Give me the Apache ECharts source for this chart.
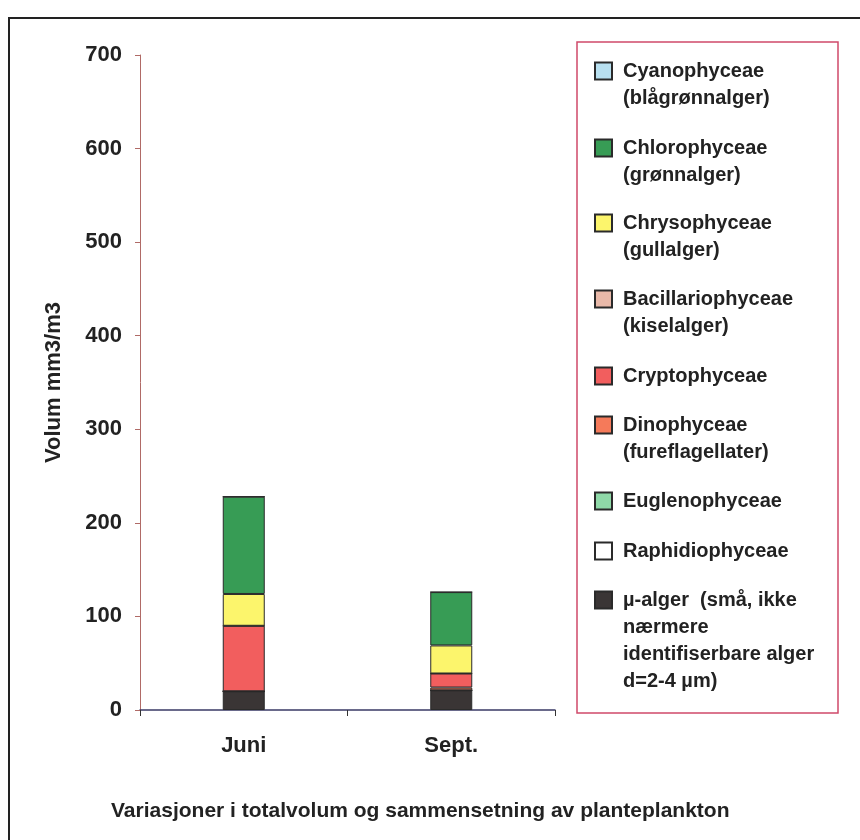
<!DOCTYPE html>
<html>
<head>
<meta charset="utf-8">
<script src="https://cdn.jsdelivr.net/npm/echarts@6/dist/echarts.min.js"></script>
<style>
html,body{margin:0;padding:0;background:#fff;}
#chart{width:860px;height:840px;}
</style>
</head>
<body>
<div id="chart"></div>
<script>
const categories = ['Juni', 'Sept.'];

// stacked values (mm3/m3), bottom of the stack first
const muAlger        = [20, 21];
const raphidio       = [0, 0];
const eugleno        = [0, 0];
const dinophyceae    = [0, 3];
const cryptophyceae  = [70, 15];
const bacillario     = [0, 0];
const chrysophyceae  = [34, 30];
const chlorophyceae  = [104, 57];
const cyanophyceae   = [0, 0];

const yMin = 0, yMax = 700, yStep = 100;

const titleText = 'Variasjoner i totalvolum og sammensetning av planteplankton';
const yAxisName = 'Volum mm3/m3';

// legend labels (first line = series name)
const legendLabels = {
  'Cyanophyceae': ['Cyanophyceae', '(blågrønnalger)'],
  'Chlorophyceae': ['Chlorophyceae', '(grønnalger)'],
  'Chrysophyceae': ['Chrysophyceae', '(gullalger)'],
  'Bacillariophyceae': ['Bacillariophyceae', '(kiselalger)'],
  'Cryptophyceae': ['Cryptophyceae'],
  'Dinophyceae': ['Dinophyceae', '(fureflagellater)'],
  'Euglenophyceae': ['Euglenophyceae'],
  'Raphidiophyceae': ['Raphidiophyceae'],
  'µ-alger': ['µ-alger  (små, ikke', 'nærmere', 'identifiserbare alger', 'd=2-4 µm)']
};
const legendOrder = ['Cyanophyceae','Chlorophyceae','Chrysophyceae','Bacillariophyceae','Cryptophyceae','Dinophyceae','Euglenophyceae','Raphidiophyceae','µ-alger'];
const legendFirstLineY = [71, 148, 223, 299, 376, 425, 501, 551, 600];

const FONT = '"Liberation Sans", Arial, sans-serif';
const TXT = '#222';

const seriesDefs = [
  {name: 'µ-alger', data: muAlger, color: '#3a3535'},
  {name: 'Raphidiophyceae', data: raphidio, color: '#ffffff'},
  {name: 'Euglenophyceae', data: eugleno, color: '#8fd9a8'},
  {name: 'Dinophyceae', data: dinophyceae, color: '#f57a5a'},
  {name: 'Cryptophyceae', data: cryptophyceae, color: '#f25e5e'},
  {name: 'Bacillariophyceae', data: bacillario, color: '#e9b9a9'},
  {name: 'Chrysophyceae', data: chrysophyceae, color: '#fcf56c'},
  {name: 'Chlorophyceae', data: chlorophyceae, color: '#379c55'},
  {name: 'Cyanophyceae', data: cyanophyceae, color: '#b8e0f0'}
];

const L = 27;
const legends = legendOrder.map((name, i) => {
  const n = legendLabels[name].length;
  return {
    data: [name],
    left: 594,
    top: legendFirstLineY[i] - (2 * n - 1) * L / 2,
    orient: 'vertical',
    padding: 0,
    icon: 'rect',
    itemWidth: 17,
    itemHeight: 17,
    selectedMode: false,
    formatter: (nm) => '\n'.repeat(legendLabels[nm].length - 1) + legendLabels[nm].join('\n'),
    textStyle: {
      fontFamily: FONT, fontWeight: 'bold', fontSize: 20, color: TXT,
      lineHeight: L, padding: [0, 0, 0, 6]
    }
  };
});

const chart = echarts.init(document.getElementById('chart'), null, {renderer: 'canvas'});
chart.setOption({
  backgroundColor: '#fff',
  animation: false,
  title: {
    text: titleText,
    left: 106, top: 796,
    textStyle: {fontFamily: FONT, fontWeight: 'bold', fontSize: 21, color: TXT}
  },
  grid: {left: 140, right: 305, top: 55, bottom: 130},
  legend: legends,
  xAxis: {
    type: 'category',
    data: categories,
    boundaryGap: true,
    axisLine: {lineStyle: {color: '#3a3a66', width: 1.5}},
    axisTick: {show: true, length: 6, lineStyle: {color: '#333'}},
    axisLabel: {fontFamily: FONT, fontWeight: 'bold', fontSize: 22, color: TXT, margin: 25}
  },
  yAxis: {
    type: 'value',
    min: yMin, max: yMax, interval: yStep,
    name: yAxisName,
    nameLocation: 'middle',
    nameGap: 75,
    nameTextStyle: {fontFamily: FONT, fontWeight: 'bold', fontSize: 22, color: TXT},
    axisLine: {show: true, lineStyle: {color: '#b06a66', width: 1}},
    axisTick: {show: true, length: 5, lineStyle: {color: '#b06a66'}},
    splitLine: {show: false},
    axisLabel: {fontFamily: FONT, fontWeight: 'bold', fontSize: 22, color: TXT, margin: 18}
  },
  graphic: [
    {type: 'rect', z: -1, shape: {x: 9, y: 18, width: 900, height: 900},
     style: {fill: 'none', stroke: '#222', lineWidth: 2}},
    {type: 'rect', z: -1, shape: {x: 577, y: 42, width: 261, height: 671},
     style: {fill: 'none', stroke: '#d04a6a', lineWidth: 1.5}}
  ],
  series: seriesDefs.map(s => ({
    name: s.name,
    type: 'bar',
    stack: 'total',
    barWidth: 42,
    data: s.data,
    itemStyle: {color: s.color, borderColor: '#2a2a2a', borderWidth: 1}
  }))
});
</script>
</body>
</html>
